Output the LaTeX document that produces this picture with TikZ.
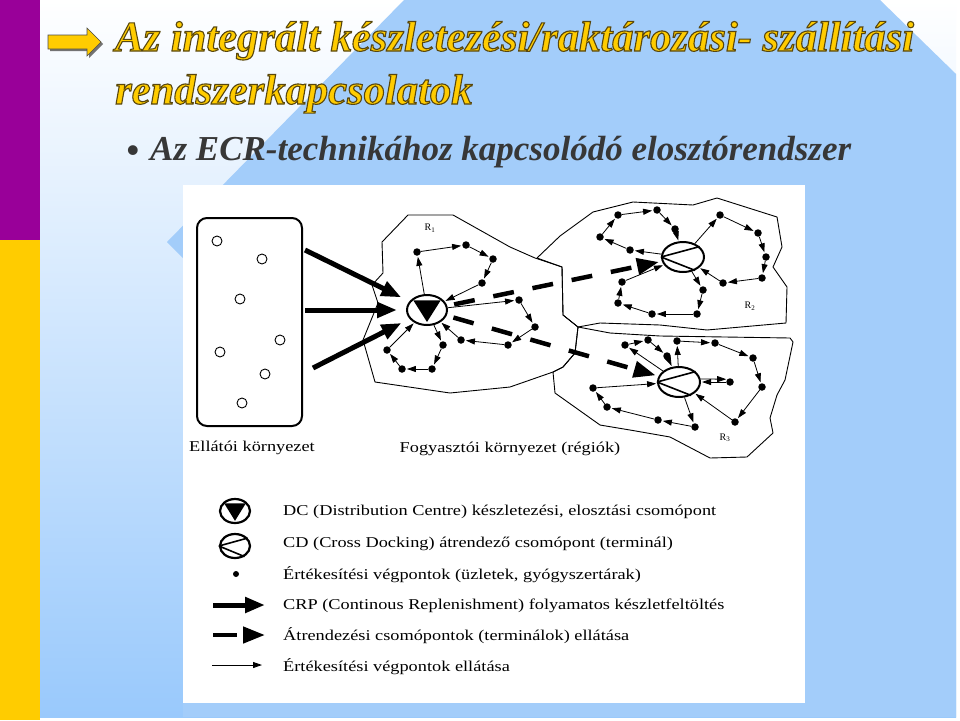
\documentclass[tikz,border=0pt]{standalone}
\usepackage{fontspec}
\setmainfont{Liberation Serif}
\usetikzlibrary{positioning,arrows.meta,shapes.geometric,calc}
\definecolor{slidepurple}{RGB}{153,0,153}
\definecolor{slideyellow}{RGB}{255,204,0}
\definecolor{slideblue}{RGB}{163,205,250}
\definecolor{fadeblue}{RGB}{153,201,252}
\definecolor{subgray}{RGB}{55,55,55}
\newcommand{\stretched}[1]{\scalebox{1.22}[1]{#1}}
% yellow letters with a dark rim
\newcommand{\rimmed}[1]{\special{pdf:literal direct 0.35 0.28 0.05 RG 1.1 w 2 Tr}#1\special{pdf:literal direct 0 Tr}}
\tikzset{
  dcnode/.style={ellipse, draw, line width=2pt, minimum width=40pt, minimum height=30pt, inner sep=0pt},
  cdnode/.style={ellipse, draw, line width=2pt, minimum width=42pt, minimum height=30pt, inner sep=0pt},
  shop/.style={circle, fill=black, minimum size=7.5pt, inner sep=0pt},
  supplier/.style={circle, draw, line width=0.9pt, minimum size=10pt, inner sep=0pt},
  crp/.style={-{Triangle[length=20pt,width=15pt]}, line width=5pt},
  crossdock/.style={-{Triangle[length=22pt,width=16pt]}, line width=4.5pt, dash pattern=on 21pt off 19pt},
  supply/.style={-{Triangle[length=9pt,width=6pt]}, line width=0.8pt, shorten >=1pt},
  region/.style={draw, line width=0.9pt, line join=round},
  maptext/.style={font=\fontsize{15}{18}\selectfont, inner sep=0pt},
  titletext/.style={font=\fontsize{42.6}{50}\selectfont\bfseries\itshape, text=slideyellow, inner sep=0pt},
  subtext/.style={font=\fontsize{35}{40}\selectfont\bfseries\itshape, text=subgray, inner sep=0pt},
}
\begin{document}
\begin{tikzpicture}[x=1pt, y=-1pt]
  \useasboundingbox (0,0) rectangle (960,720);
  % slide background
  \fill[white] (0,0) rectangle (960,720);
  \shade[top color=white, bottom color=fadeblue] (40,0) rectangle (956,717);
  \fill[slideblue] (404,0) -- (880,0) -- (956,74) -- (956,717) -- (183,717) -- (183,258) -- (167,242) -- cycle;
  \fill[slidepurple] (0,0) rectangle (40,240);
  \fill[slideyellow] (0,240) rectangle (40,720);

  % title
  \fill[black!55] (50,37) -- (89,37) -- (89,30) -- (103,44) -- (89,58) -- (89,51) -- (50,51) -- cycle;
  \filldraw[fill=slideyellow, draw=black!70, line width=0.6pt] (48,35) -- (87,35) -- (87,28) -- (101,42) -- (87,56) -- (87,49) -- (48,49) -- cycle;
  \node[titletext, anchor=base west] (title1) at (115,51) {\rimmed{Az integrált készletezési/raktározási- szállítási}};
  \node[titletext, anchor=base west] (title2) at (115,104) {\rimmed{rendszerkapcsolatok}};
  \node[subtext, anchor=base, font=\fontsize{36}{36}\selectfont\bfseries] (bullet) at (133,162) {•};
  \node[subtext, anchor=base west] (subtitle) at (150,160) {Az ECR-technikához kapcsolódó elosztórendszer};

  % diagram sheet
  \fill[white] (183,185) rectangle (805,703);

  % regions
  \draw[region] (382,242) -- (408,215) -- (453,215) -- (510,247) -- (535,258) -- (562,267) -- (563,315) -- (578,327) -- (575,353) -- (563,367) -- (553,372) -- (510,387) -- (450,393) -- (375,382) -- (363,340) -- (378,303) -- (372,285) -- (383,273) -- cycle;
  \draw[region] (537,258) -- (560,236) -- (593,212) -- (633,202) -- (693,205) -- (717,198) -- (777,217) -- (782,247) -- (773,267) -- (787,287) -- (786,323) -- (707,330) -- (660,325) -- (600,323) -- (578,327) -- (563,315) -- (562,267) -- cycle;
  \draw[region] (578,327) -- (610,333) -- (660,336) -- (790,338) -- (793,342) -- (785,380) -- (777,395) -- (770,418) -- (773,433) -- (747,457) -- (710,458) -- (670,437) -- (630,430) -- (600,425) -- (555,393) -- (553,372) -- (563,367) -- (575,353) -- cycle;
  \node[font=\fontsize{10}{12}\selectfont] (lab1) at (430,228) {R\textsubscript{1}};
  \node[font=\fontsize{10}{12}\selectfont] (lab2) at (750,306) {R\textsubscript{2}};
  \node[font=\fontsize{10}{12}\selectfont] (lab3) at (725,438) {R\textsubscript{3}};

  % supplier side
  \node[draw, rounded corners=10pt, line width=2pt, minimum width=105pt, minimum height=208pt] (supplybox) at (249.5,322) {};
  \foreach \i/\p in {1/{(217,241)}, 2/{(262,259)}, 3/{(240,299)}, 4/{(280,340)}, 5/{(220,352)}, 6/{(265,374)}, 7/{(242,403)}}
    \node[supplier] (sup\i) at \p {};
  \node[maptext] (supplylabel) at (252,448) {\stretched{Ellátói környezet}};
  \node[maptext] (consumerlabel) at (510,449) {\stretched{Fogyasztói környezet (régiók)}};

  % nodes
  \node[dcnode] (dc) at (427,310) {};
  \node[cdnode] (cd2) at (683,257) {};
  \node[cdnode] (cd3) at (679,382) {};

  \foreach \i/\p in {1/{(417,252)}, 2/{(466,245)}, 3/{(493,259)}, 4/{(482,283)}, 5/{(519,300)}, 6/{(535,327)},
                     7/{(508,345)}, 8/{(461,340)}, 9/{(443,345)}, 10/{(432,369)}, 11/{(402,369)}, 12/{(387,350)}}
    \node[shop] (r1s\i) at \p {};
  \foreach \i/\p in {1/{(630,250)}, 2/{(600,237)}, 3/{(618,215)}, 4/{(657,210)}, 5/{(675,229)}, 6/{(720,215)},
                     7/{(758,233)}, 8/{(766,257)}, 9/{(762,278)}, 10/{(723,283)}, 11/{(703,290)}, 12/{(697,314)},
                     13/{(652,314)}, 14/{(618,303)}, 15/{(622,282)}}
    \node[shop] (r2s\i) at \p {};
  \foreach \i/\p in {1/{(625,345)}, 2/{(648,340)}, 3/{(667,356)}, 4/{(677,341)}, 5/{(715,343)}, 6/{(753,358)},
                     7/{(762,387)}, 8/{(735,422)}, 9/{(730,382)}, 10/{(695,427)}, 11/{(658,420)}, 12/{(607,407)},
                     13/{(593,388)}}
    \node[shop] (r3s\i) at \p {};

  % symbols inside the nodes
  \foreach \n in {dc}
    \fill ($(\n.center)!0.88!(\n.145)$) -- ($(\n.center)!0.88!(\n.35)$) -- ($(\n.center)!0.75!(\n.south)$) -- cycle;
  \foreach \n in {cd2, cd3}
    \draw[line width=1.6pt] (\n.west) -- (\n.32) (\n.west) -- (\n.-48);

  % continuous replenishment
  \coordinate (crp1) at (305,250);
  \coordinate (crp2) at (305,310);
  \coordinate (crp3) at (313,368);
  \foreach \c in {crp1, crp2, crp3}
    \draw[crp, shorten >=9pt] (\c) -- (dc);

  % supply of the cross docking terminals
  \draw[crossdock, shorten <=7pt, shorten >=3pt] (dc) -- (cd2);
  \draw[crossdock, shorten <=7pt, shorten >=3pt] (dc) -- (cd3);

  % supply of the shops
  \foreach \a/\b in {dc/r1s1, r1s1/r1s2, r1s2/r1s3, r1s3/r1s4, r1s4/dc,
                     dc/r1s5, r1s5/r1s6, r1s6/r1s7, r1s7/r1s8, r1s8/dc,
                     dc/r1s9, r1s9/r1s10, r1s10/r1s11, r1s11/r1s12, r1s12/dc,
                     cd2/r2s1, r2s1/r2s2, r2s2/r2s3, r2s3/r2s4, r2s4/r2s5, r2s5/cd2,
                     cd2/r2s6, r2s6/r2s7, r2s7/r2s8, r2s8/r2s9, r2s9/r2s10, r2s10/cd2,
                     cd2/r2s11, r2s11/r2s12, r2s12/r2s13, r2s13/r2s14, r2s14/r2s15, r2s15/cd2,
                     cd3/r3s1, r3s1/r3s2, r3s2/r3s3, r3s3/cd3,
                     cd3/r3s4, r3s4/r3s5, r3s5/r3s6, r3s6/r3s7, r3s7/r3s8, r3s8/cd3,
                     r3s9/cd3,
                     cd3/r3s10, r3s10/r3s11, r3s11/r3s12, r3s12/r3s13, r3s13/cd3}
    \draw[supply] (\a) -- (\b);
  \draw[supply] (cd3.8) -- (r3s9.north west);

  % legend
  \node[dcnode, line width=2.2pt, minimum width=30pt, minimum height=24pt] (dckey) at (235,511) {};
  \fill ($(dckey.center)!0.88!(dckey.145)$) -- ($(dckey.center)!0.88!(dckey.35)$) -- ($(dckey.center)!0.75!(dckey.south)$) -- cycle;
  \node[cdnode, line width=2.2pt, minimum width=30pt, minimum height=24pt] (cdkey) at (235,546) {};
  \draw[line width=1.6pt] (cdkey.west) -- (cdkey.32) (cdkey.west) -- (cdkey.-48);
  \node[shop, minimum size=6pt] (shopkey) at (236,574) {};
  \coordinate (crpa) at (213,605);
  \coordinate (crpb) at (265,605);
  \coordinate (xda) at (213,635);
  \coordinate (xdb) at (265,635);
  \coordinate (supa) at (212,665);
  \coordinate (supb) at (262,665);
  \draw[crp] (crpa) -- (crpb);
  \draw[crossdock, dash pattern=on 24pt off 8pt] (xda) -- (xdb);
  \draw[supply, shorten >=0pt] (supa) -- (supb);

  \node[maptext, anchor=west] (key1) at (283,512) {\stretched{DC (Distribution Centre) készletezési, elosztási csomópont}};
  \node[maptext, anchor=west] (key2) at (283,544) {\stretched{CD (Cross Docking) átrendező csomópont (terminál)}};
  \node[maptext, anchor=west] (key3) at (283,575) {\stretched{Értékesítési végpontok (üzletek, gyógyszertárak)}};
  \node[maptext, anchor=west] (key4) at (283,606) {\stretched{CRP (Continous Replenishment) folyamatos készletfeltöltés}};
  \node[maptext, anchor=west] (key5) at (283,636) {\stretched{Átrendezési csomópontok (terminálok) ellátása}};
  \node[maptext, anchor=west] (key6) at (283,667) {\stretched{Értékesítési végpontok ellátása}};
\end{tikzpicture}
\end{document}
